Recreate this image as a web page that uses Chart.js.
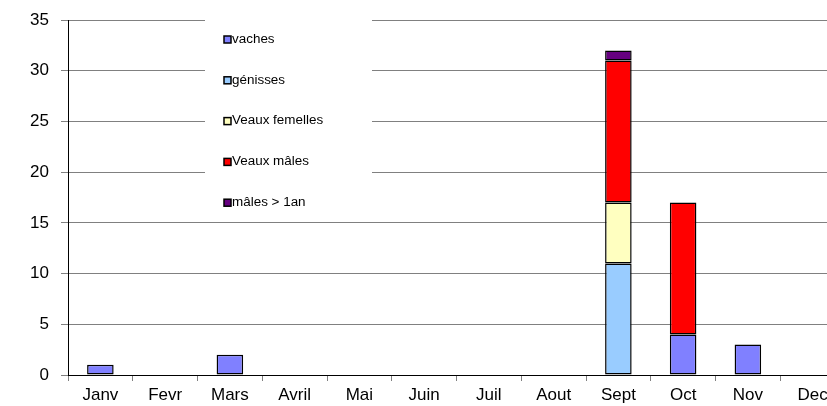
<!DOCTYPE html>
<html>
<head>
<meta charset="utf-8">
<script src="https://cdn.jsdelivr.net/npm/chart.js@4"></script>
<style>
html,body{margin:0;padding:0;background:#fff;overflow:hidden;width:827px;height:406px;}
canvas{display:block;}
</style>
</head>
<body>
<canvas id="c" width="846" height="406"></canvas>
<script>
const months = ["Janv","Fevr","Mars","Avril","Mai","Juin","Juil","Aout","Sept","Oct","Nov","Dec"];
const seriesNames = ["vaches","génisses","Veaux femelles","Veaux mâles","mâles > 1an"];
const vaches        = [1,null,2,null,null,null,null,null,null,4,3,null];
const genisses      = [null,null,null,null,null,null,null,null,11,null,null,null];
const veauxFemelles = [null,null,null,null,null,null,null,null,6,null,null,null];
const veauxMales    = [null,null,null,null,null,null,null,null,14,13,null,null];
const malesPlus1an  = [null,null,null,null,null,null,null,null,1,null,null,null];
const yTicks = [0,5,10,15,20,25,30,35];

const colors = ["#8080FF","#99CCFF","#FFFFC0","#FF0000","#660080"];
const values = [vaches,genisses,veauxFemelles,veauxMales,malesPlus1an];

const FONT = "'Liberation Sans', Arial, sans-serif";

const legendPlugin = {
  id: 'insideLegend',
  afterDatasetsDraw(chart) {
    const ctx = chart.ctx;
    ctx.save();
    ctx.fillStyle = '#fff';
    ctx.fillRect(205, 14, 167, 200);
    ctx.textBaseline = 'middle';
    chart.data.datasets.forEach((ds, i) => {
      const y = 39.5 + i * 40.8;
      ctx.fillStyle = ds.backgroundColor;
      ctx.fillRect(224, y - 3.5, 7, 7);
      ctx.strokeStyle = '#000';
      ctx.lineWidth = 1.5;
      ctx.strokeRect(224, y - 3.5, 7, 7);
      ctx.save();
      ctx.translate(232, y);
      ctx.scale(1.12, 1);
      ctx.font = '12px ' + FONT;
      ctx.fillStyle = '#000';
      ctx.fillText(ds.label, 0, 0);
      ctx.restore();
    });
    ctx.restore();
  }
};

new Chart(document.getElementById('c'), {
  type: 'bar',
  data: {
    labels: months,
    datasets: seriesNames.map((n, i) => ({
      label: n,
      data: values[i],
      backgroundColor: colors[i],
      borderColor: '#000',
      borderWidth: 1.5,
      borderSkipped: false,
      categoryPercentage: 0.41,
      barPercentage: 1.0
    }))
  },
  options: {
    responsive: false,
    animation: false,
    layout: { padding: { left: 0, top: 20, right: 1, bottom: 0 } },
    plugins: { legend: { display: false }, tooltip: { enabled: false } },
    scales: {
      x: {
        stacked: true,
        afterFit(s) { s.height = 31; },
        grid: { display: true, drawOnChartArea: false, drawTicks: true, tickLength: 6, offset: true, color: '#808080' },
        border: { display: true, color: '#000', width: 1 },
        ticks: { color: '#000', font: { family: FONT, size: 17 }, padding: 4, maxRotation: 0, autoSkip: false }
      },
      y: {
        stacked: true,
        min: 0, max: 35,
        afterFit(s) { s.width = 68; },
        afterBuildTicks(s) { s.ticks = yTicks.map(v => ({ value: v })); },
        grid: { color: '#808080', lineWidth: 1, tickLength: 7 },
        border: { display: true, color: '#000', width: 1 },
        ticks: { color: '#000', font: { family: FONT, size: 17, lineHeight: 0.5 }, padding: 12 }
      }
    }
  },
  plugins: [legendPlugin]
});
</script>
</body>
</html>
